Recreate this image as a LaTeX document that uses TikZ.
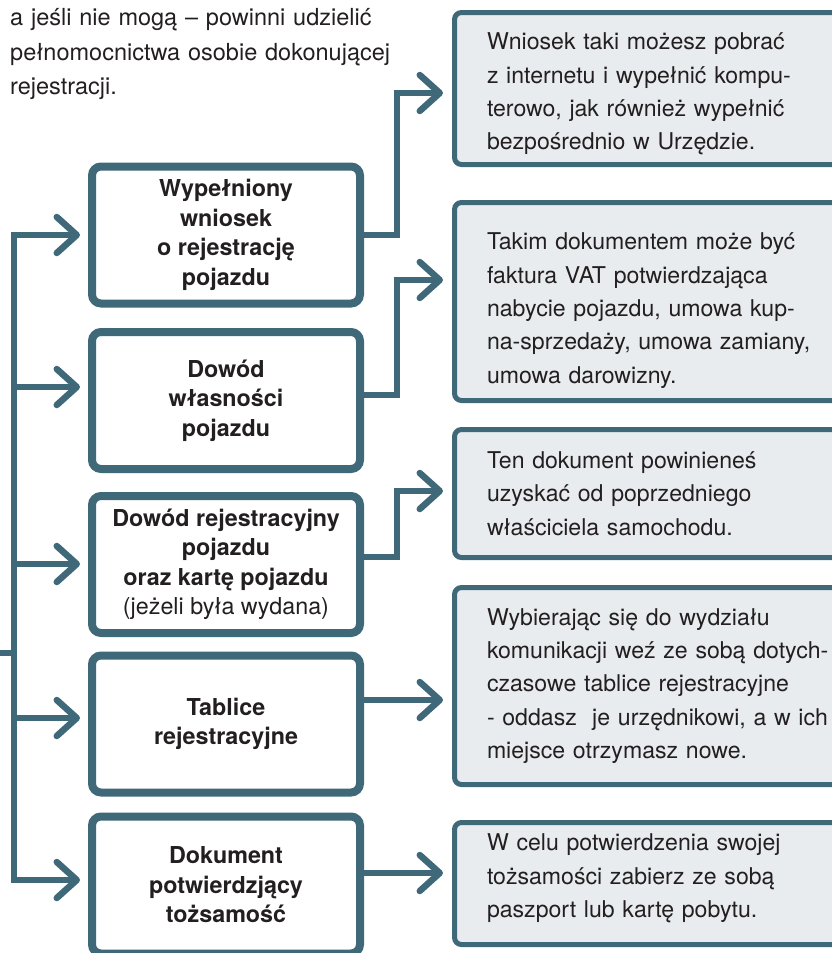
\documentclass[tikz,border=0pt]{standalone}
\usepackage{fontspec}
\setmainfont{TeX Gyre Heros}
\usetikzlibrary{arrows.meta}
\definecolor{teal1}{RGB}{63,104,121}
\definecolor{boxfill}{RGB}{232,236,239}
\definecolor{ink}{RGB}{35,31,32}
\tikzset{chev/.tip={Straight Barb[length=20pt,width=36pt,round]}}
\begin{document}
\begin{tikzpicture}[x=1pt,y=-1pt,
  lbox/.style={draw=teal1, line width=8pt, rounded corners=9pt, fill=white,
    minimum width=268pt, minimum height=137pt, align=center, text=ink,
    font=\fontsize{23.3}{29.5}\selectfont\bfseries, inner sep=0pt},
  rbox/.style={draw=teal1, line width=5pt, rounded corners=7pt, fill=boxfill,
    text width=380pt, inner xsep=32.5pt, inner ysep=0pt, align=left, text=ink,
    font=\fontsize{23.1}{33.3}\selectfont},
  textdown/.style={execute at begin node={\rule{0pt}{#1}}},
  textup/.style={execute at end node={\endgraf\vspace*{#1}}},
  conn/.style={draw=teal1, line width=6.5pt, line join=miter},
  arr/.style={conn, -chev},
]
\useasboundingbox (0,0) rectangle (832,953);
\clip (0,0) rectangle (832,953);

\node[anchor=base west, text width=430pt, align=left, inner sep=0pt, text=ink,
  font=\fontsize{23.5}{35}\selectfont] (intro) at (10,25)
  {a jeśli nie mogą – powinni udzielić\\pełnomocnictwa osobie dokonującej\\rejestracji.};

% left boxes
\node[lbox] (L1) at (226,235) {Wypełniony\\wniosek\\o rejestrację\\pojazdu};
\node[lbox] (L2) at (226,400.5) {Dowód\\własności\\pojazdu};
\node[lbox] (L3) at (226,564.5) {Dowód rejestracyjny\\pojazdu\\oraz kartę pojazdu\\{\mdseries(jeżeli była wydana)}};
\node[lbox] (L4) at (226,724) {Tablice\\rejestracyjne};
\node[lbox] (L5) at (226,885) {Dokument\\potwierdzjący\\tożsamość};

% right boxes
\node[rbox, minimum height=152pt, textdown=28pt] (R1) at (677,88.5)
  {Wniosek taki możesz pobrać\\z internetu i wypełnić kompu-\\terowo, jak również wypełnić\\bezpośrednio w Urzędzie.};
\node[rbox, minimum height=198pt, textdown=35pt] (R2) at (677,301.5)
  {Takim dokumentem może być\\faktura VAT potwierdzająca\\nabycie pojazdu, umowa kup-\\na-sprzedaży, umowa zamiany,\\umowa darowizny.};
\node[rbox, minimum height=128pt] (R3) at (677,493.5)
  {Ten dokument powinieneś\\uzyskać od poprzedniego\\właściciela samochodu.};
\node[rbox, minimum height=197pt] (R4) at (677,686)
  {Wybierając się do wydziału\\komunikacji weź ze sobą dotych-\\czasowe tablice rejestracyjne\\- oddasz\ \ je urzędnikowi, a w ich\\miejsce otrzymasz nowe.};
\node[rbox, minimum height=122pt, textup=10pt] (R5) at (677,883.5)
  {W celu potwierdzenia swojej\\tożsamości zabierz ze sobą\\paszport lub kartę pobytu.};

% trunk on the left
\coordinate (jtop) at (14,235);
\coordinate (jbot) at (14,880);
\coordinate (j2) at (14,387);
\coordinate (j3) at (14,564);
\coordinate (j4) at (14,718);
\coordinate (stub) at (0,653);

\draw[conn, chev-chev, shorten <=8pt, shorten >=8pt] (L1.west) -- (jtop) -- (jbot) -- (jbot -| L5.west);
\draw[arr, shorten >=8pt] (j2) -- (j2 -| L2.west);
\draw[arr, shorten >=8pt] (j3) -- (j3 -| L3.west);
\draw[arr, shorten >=8pt] (j4) -- (j4 -| L4.west);
\draw[conn] (stub) -- (stub -| jtop);

% connectors to the right
\draw[arr, shorten >=9pt] (L1.east) -- ++(33,0) |- ([yshift=-4.5pt]R1.west);
\draw[arr, shorten >=9pt] ([yshift=5.5pt]L2.east) -- ++(33,0) |- ([yshift=21.5pt]R2.west);
\draw[arr, shorten >=9pt] ([yshift=7.5pt]L3.east) -- ++(33,0) |- ([yshift=2.5pt]R3.west);
\draw[arr, shorten >=9pt] ([yshift=24pt]L4.east) -- ([yshift=24pt]L4.east -| R4.west);
\draw[arr, shorten >=9pt] ([yshift=12pt]L5.east) -- ([yshift=12pt]L5.east -| R5.west);
\end{tikzpicture}
\end{document}
